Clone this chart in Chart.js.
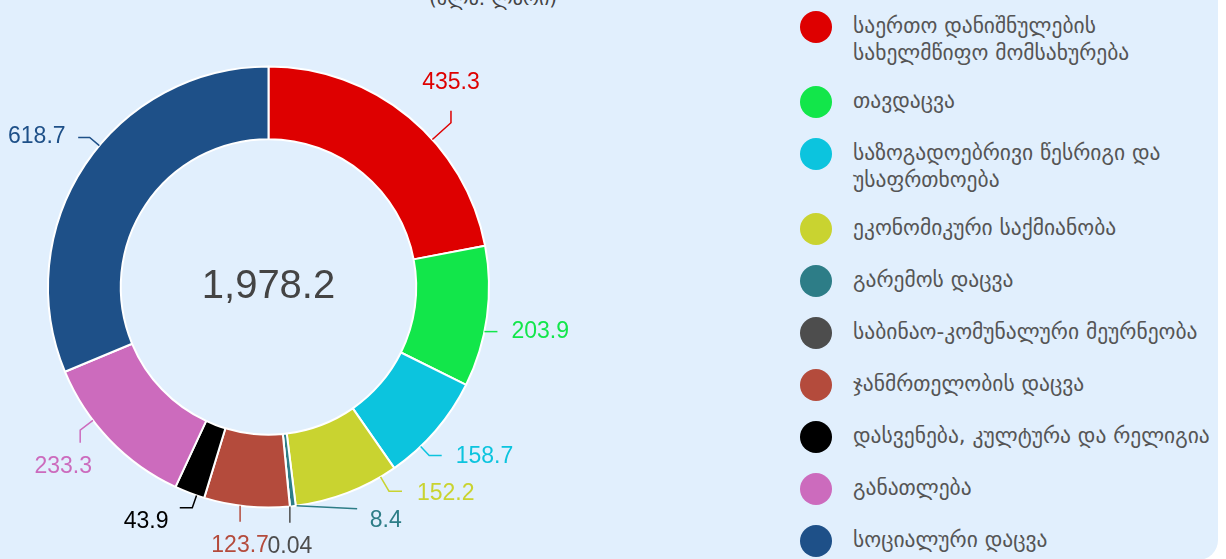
<!DOCTYPE html>
<html lang="ka">
<head>
<meta charset="utf-8">
<script src="https://cdn.jsdelivr.net/npm/chart.js@4/dist/chart.umd.min.js"></script>
<style>
  html, body { margin: 0; padding: 0; background: #ffffff; overflow: hidden; }
  body { width: 1226px; height: 559px; position: relative; }
  .panel {
    position: absolute; left: -20px; top: -40px; width: 1238px; height: 600px;
    background: #e1effd; border-radius: 20px;
  }
  .title {
    position: absolute; left: 393px; width: 200px; top: -14px; line-height: 20px;
    text-align: center; font: 20px "DejaVu Sans", sans-serif; color: #444;
  }
  .chart-box { position: absolute; left: 0; top: 0; width: 640px; height: 559px; }
  #legend { position: absolute; left: 800px; top: 11px; width: 425px; }
  .item { display: flex; align-items: flex-start; margin-bottom: 20px; }
  .dot { width: 32px; height: 32px; border-radius: 50%; flex: none; }
  .txt {
    margin-left: 21px; padding-top: 2px; width: 368px;
    font: 21.5px "DejaVu Sans", sans-serif; line-height: 26.5px; color: #555;
  }
</style>
</head>
<body>
<div class="panel"></div>
<div class="title">(მლნ. ლარი)</div>
<div class="chart-box"><canvas id="budgetChart" width="640" height="559"></canvas></div>
<div id="legend"></div>
<script>
// მონაცემები
const categories = [
  'საერთო დანიშნულების სახელმწიფო მომსახურება',
  'თავდაცვა',
  'საზოგადოებრივი წესრიგი და უსაფრთხოება',
  'ეკონომიკური საქმიანობა',
  'გარემოს დაცვა',
  'საბინაო-კომუნალური მეურნეობა',
  'ჯანმრთელობის დაცვა',
  'დასვენება, კულტურა და რელიგია',
  'განათლება',
  'სოციალური დაცვა'
];
const values = [435.3, 203.9, 158.7, 152.2, 8.4, 0.04, 123.7, 43.9, 233.3, 618.7];
const totalLabel = 1978.2;
const colors = ['#de0000', '#12e64a', '#0cc4de', '#c9d330', '#2d7d87',
                '#4d4d4d', '#b44b3c', '#000000', '#cc6bbd', '#1e5088'];

// იარლიყების განლაგება: კუთხის შესწორება, მოხრა, ბოლო მონაკვეთი, ტექსტის წანაცვლება
const labelLayout = [
  { nudge: 8.4,  crook: 25,   seg: [0, -12],   text: [0, -28],    align: 'center' },
  { nudge: 3.9,  crook: 0,    seg: [13, 0],    text: [14, 0],     align: 'left' },
  { nudge: 5.6,  crook: 12.4, seg: [12.5, 0],  text: [14, 1.3],   align: 'left' },
  { nudge: -9.6, crook: 16.6, seg: [13, 0],    text: [15, 2.5],   align: 'left' },
  { nudge: -1,   crook: 0,    seg: [60.5, 3],  text: [12.6, 12.3], align: 'left' },
  { nudge: 0,    crook: 0,    seg: [0, 16.3],  text: [0, 24],     align: 'center' },
  { nudge: 1.7,  crook: 0,    seg: [0, 16],    text: [0, 24],     align: 'center' },
  { nudge: -1.9, crook: 13,   seg: [-12.5, 0], text: [-11.3, 14], align: 'right' },
  { nudge: 6.6,  crook: 16,   seg: [0, 12.7],  text: [11.8, 24.3], align: 'right' },
  { nudge: 6.2,  crook: 12.6, seg: [-11.5, 0], text: [-12.6, -0.6], align: 'right' }
];

const outerLabels = {
  id: 'outerLabels',
  afterDatasetsDraw(chart) {
    const ctx = chart.ctx;
    const arcs = chart.getDatasetMeta(0).data;
    ctx.save();
    ctx.lineWidth = 1.5;
    ctx.font = '23px "Liberation Sans", Arial, sans-serif';
    ctx.textBaseline = 'middle';
    arcs.forEach((arc, i) => {
      const lay = labelLayout[i];
      const a = (arc.startAngle + arc.endAngle) / 2 + lay.nudge * Math.PI / 180;
      const ux = Math.cos(a), uy = Math.sin(a);
      const sx = arc.x + arc.outerRadius * ux;
      const sy = arc.y + arc.outerRadius * uy;
      const cx = sx + lay.crook * ux;
      const cy = sy + lay.crook * uy;
      const ex = cx + lay.seg[0];
      const ey = cy + lay.seg[1];
      ctx.strokeStyle = colors[i];
      ctx.beginPath();
      ctx.moveTo(sx, sy);
      ctx.lineTo(cx, cy);
      ctx.lineTo(ex, ey);
      ctx.stroke();
      ctx.fillStyle = colors[i];
      ctx.textAlign = lay.align;
      ctx.fillText(String(values[i]), ex + lay.text[0], ey + lay.text[1]);
    });
    // ჯამი ცენტრში
    const c = arcs[0];
    ctx.fillStyle = '#444444';
    ctx.font = '40px "Liberation Sans", Arial, sans-serif';
    ctx.textAlign = 'center';
    ctx.fillText(totalLabel.toLocaleString('en-US', { minimumFractionDigits: 1 }), c.x, c.y);
    ctx.restore();
  }
};

const ctx = document.getElementById('budgetChart').getContext('2d');
const budgetChart = new Chart(ctx, {
  type: 'doughnut',
  data: {
    labels: categories,
    datasets: [{
      data: values,
      backgroundColor: colors,
      borderColor: '#ffffff',
      borderWidth: 2
    }]
  },
  options: {
    responsive: false,
    animation: false,
    cutout: '67%',
    layout: { padding: { left: 47, right: 150, top: 65.5, bottom: 50.5 } },
    plugins: {
      legend: { display: false },
      tooltip: { enabled: false }
    }
  },
  plugins: [outerLabels]
});

// ლეგენდა
const legendEl = document.getElementById('legend');
categories.forEach((name, i) => {
  const row = document.createElement('div');
  row.className = 'item';
  row.innerHTML = `<div class="dot" style="background:${colors[i]}"></div><div class="txt">${name}</div>`;
  legendEl.appendChild(row);
});
</script>
</body>
</html>
